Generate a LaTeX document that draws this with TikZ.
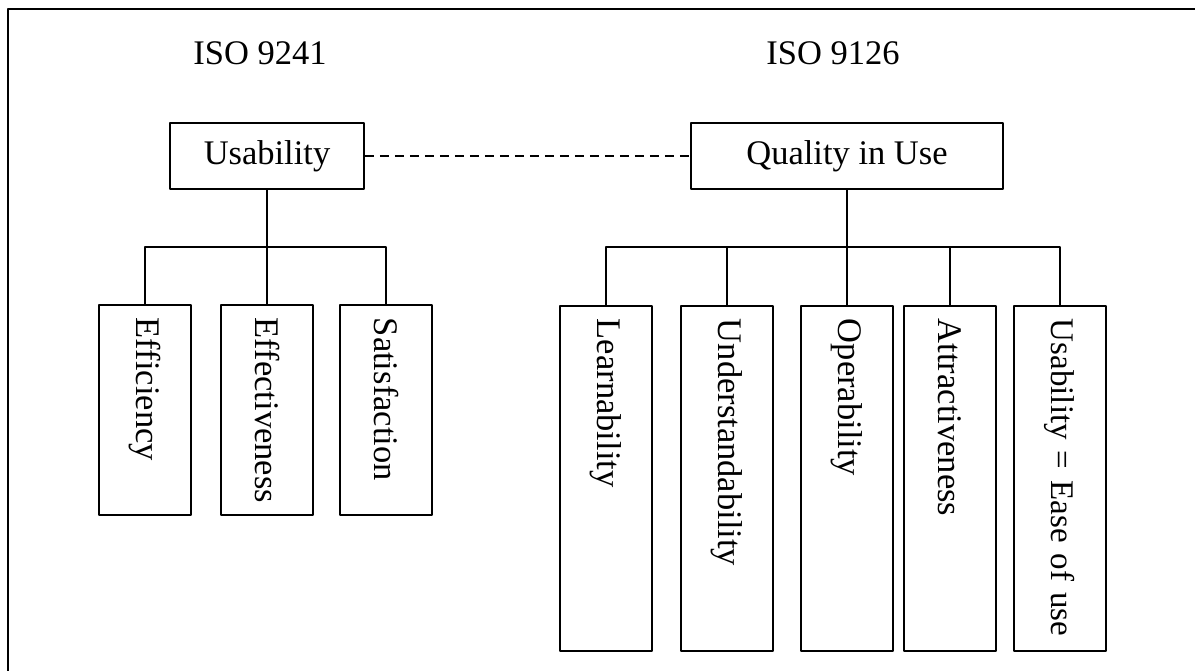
\documentclass[tikz,border=0pt]{standalone}
\usepackage{fontspec}
\setmainfont{Liberation Serif}
\usetikzlibrary{calc}

\tikzset{
  box/.style = {draw, line width = 1.8pt, minimum height = 66pt, inner sep = 0pt},
  leaf/.style = {draw, line width = 1.8pt, rotate = -90, anchor = west,
    minimum height = 92pt, inner xsep = 13pt, inner ysep = 0pt, align = left},
  link/.style = {line width = 1.8pt},
  dashlink/.style = {line width = 1.6pt, dash pattern = on 9pt off 6pt}
}

\begin{document}
\begin{tikzpicture}[x = 1pt, y = -1pt, line join = round,
  font = \fontsize{34.5}{42}\selectfont]
  \useasboundingbox (0, 0) rectangle (1195, 670);
  \draw[line width = 2pt] (8, 672) -- (8, 9) -- (1197, 9);

  \node (iso1) at (260, 53) {ISO 9241};
  \node (iso2) at (833, 53) {ISO 9126};

  \node[box, minimum width = 194pt] (usab) at (267, 156) {Usability};
  \node[box, minimum width = 312pt] (qiu) at (847, 156) {Quality in Use};
  \draw[dashlink] (usab.east) -- (qiu.west);

  \coordinate (lbar) at (0, 247);

  % ISO 9241 side
  \node[leaf, text width = 184pt] (eff) at (145, 304) {Efficiency};
  \node[leaf, text width = 184pt] (efv) at (267, 304) {Effectiveness};
  \node[leaf, text width = 184pt] (sat) at (386, 304) {Satisfaction};

  \draw[link] (usab.south) -- (usab.south |- lbar);
  \draw[link] (eff.west) -- (eff.west |- lbar) -- (sat.west |- lbar)
  -- (sat.west);
  \draw[link] (efv.west) -- (efv.west |- lbar);

  % ISO 9126 side
  \node[leaf, text width = 319pt] (lrn) at (606, 305) {Learnability};
  \node[leaf, text width = 319pt] (und) at (727, 305) {Understandability};
  \node[leaf, text width = 319pt] (opr) at (847, 305) {Operability};
  \node[leaf, text width = 319pt] (att) at (950, 305) {Attractiveness};
  \node[leaf, text width = 319pt, font = \fontsize{33}{40}\selectfont]
  (eou) at (1060, 305) {\mbox{Usability = Ease of use}};

  \draw[link] (qiu.south) -- (qiu.south |- lbar);
  \draw[link] (lrn.west) -- (lrn.west |- lbar) -- (eou.west |- lbar)
  -- (eou.west);
  \foreach \n in {und, opr, att}
    \draw[link] (\n.west) -- (\n.west |- lbar);
\end{tikzpicture}
\end{document}
